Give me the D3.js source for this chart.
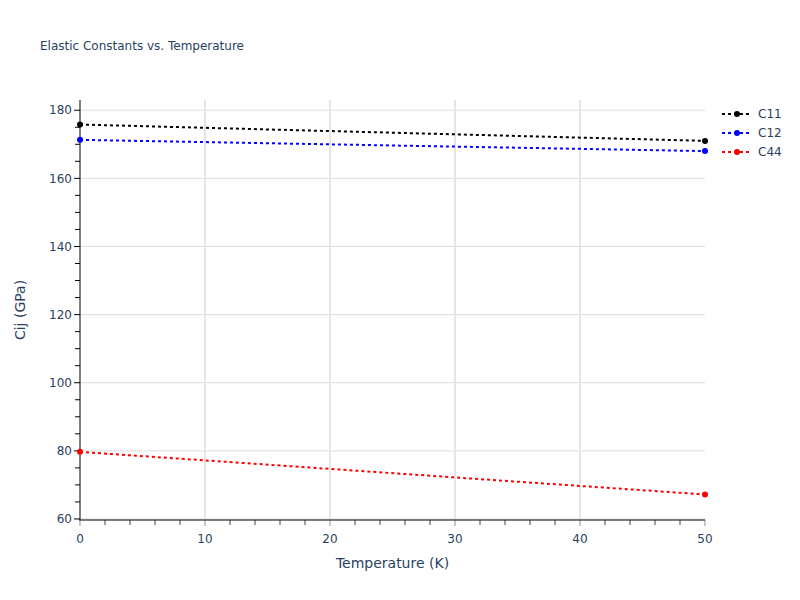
<!DOCTYPE html>
<html>
<head>
<meta charset="utf-8">
<script src="https://cdn.jsdelivr.net/npm/d3@7"></script>
<style>
  body { margin: 0; background: #fff; }
  svg { font-family: "DejaVu Sans", verdana, arial, sans-serif; }
</style>
</head>
<body>
<svg id="chart" width="800" height="600"></svg>
<script>
const temperatures = [0, 50];
const seriesNames = ["C11", "C12", "C44"];
const seriesColors = ["#000000", "#0000ff", "#ff0000"];
const c11 = [175.8, 171.0];
const c12 = [171.3, 168.0];
const c44 = [79.7, 67.2];
const xTicks = [0, 10, 20, 30, 40, 50];
const yTicks = [60, 80, 100, 120, 140, 160, 180];

const seriesValues = [c11, c12, c44];
const textColor = "#2a3f5f";

const svg = d3.select("#chart");
const pLeft = 80, pRight = 705, pTop = 100, pBottom = 520;

const x = d3.scaleLinear().domain([0, 50]).range([pLeft, pRight]);
const y = d3.scaleLinear().domain([59.7, 183]).range([pBottom, pTop]);

// Title
svg.append("text").attr("x", 40).attr("y", 50)
  .attr("font-size", 12).attr("fill", textColor)
  .text("Elastic Constants vs. Temperature");

// Gridlines
const grid = svg.append("g");
grid.selectAll("line.gy").data(yTicks).enter().append("line")
  .attr("x1", pLeft).attr("x2", pRight)
  .attr("y1", d => y(d)).attr("y2", d => y(d))
  .attr("stroke", "#dddddd").attr("stroke-width", 1);
grid.selectAll("line.gx").data(xTicks.filter(d => d > 0 && d < 50)).enter().append("line")
  .attr("y1", pTop).attr("y2", pBottom)
  .attr("x1", d => x(d)).attr("x2", d => x(d))
  .attr("stroke", "#e5e5e5").attr("stroke-width", 2);

// X axis
const xAxisG = svg.append("g").attr("transform", `translate(0,${pBottom})`);
const xMinor = d3.range(0, 51, 2).filter(d => d % 10 !== 0);
xAxisG.selectAll("line.minor").data(xMinor).enter().append("line")
  .attr("x1", d => x(d)).attr("x2", d => x(d)).attr("y1", 0).attr("y2", 5)
  .attr("stroke", "#444").attr("stroke-width", 1);
xAxisG.selectAll("line.major").data(xTicks).enter().append("line")
  .attr("x1", d => x(d)).attr("x2", d => x(d)).attr("y1", 0).attr("y2", 6)
  .attr("stroke", "#c8c8c8").attr("stroke-width", 2);
xAxisG.append("line").attr("x1", pLeft - 1).attr("x2", pRight).attr("y1", 0).attr("y2", 0)
  .attr("stroke", "#000").attr("stroke-width", 1);
xAxisG.selectAll("text").data(xTicks).enter().append("text")
  .attr("x", d => x(d)).attr("y", 23).attr("text-anchor", "middle")
  .attr("font-size", 12).attr("fill", textColor).text(d => d);

// Y axis
const yAxisG = svg.append("g").attr("transform", `translate(${pLeft},0)`);
const yMinor = d3.range(60, 185, 5).filter(d => d % 20 !== 0);
yAxisG.selectAll("line.minor").data(yMinor).enter().append("line")
  .attr("x1", -5).attr("x2", 0).attr("y1", d => y(d)).attr("y2", d => y(d))
  .attr("stroke", "#000").attr("stroke-width", 1);
yAxisG.selectAll("line.major").data(yTicks).enter().append("line")
  .attr("x1", -6).attr("x2", 0).attr("y1", d => y(d)).attr("y2", d => y(d))
  .attr("stroke", "#000").attr("stroke-width", 1);
yAxisG.append("line").attr("x1", 0).attr("x2", 0).attr("y1", pTop).attr("y2", pBottom)
  .attr("stroke", "#000").attr("stroke-width", 1);
yAxisG.selectAll("text").data(yTicks).enter().append("text")
  .attr("x", -8).attr("y", d => y(d)).attr("dy", "0.35em").attr("text-anchor", "end")
  .attr("font-size", 12).attr("fill", textColor).text(d => d);

// Axis titles
svg.append("text").attr("x", (pLeft + pRight) / 2).attr("y", 568)
  .attr("text-anchor", "middle").attr("font-size", 14).attr("fill", textColor)
  .text("Temperature (K)");
svg.append("text").attr("transform", `translate(25,${(pTop + pBottom) / 2}) rotate(-90)`)
  .attr("text-anchor", "middle").attr("font-size", 14).attr("fill", textColor)
  .text("Cij (GPa)");

// Series
const line = d3.line().x(d => x(d[0])).y(d => y(d[1]));
const plot = svg.append("g");
seriesValues.forEach((vals, i) => {
  const pts = temperatures.map((t, j) => [t, vals[j]]);
  plot.append("path").datum(pts).attr("d", line)
    .attr("fill", "none").attr("stroke", seriesColors[i])
    .attr("stroke-width", 2).attr("stroke-dasharray", "3,3");
  plot.selectAll(null).data(pts).enter().append("circle")
    .attr("cx", d => x(d[0])).attr("cy", d => y(d[1])).attr("r", 3)
    .attr("fill", seriesColors[i]);
});

// Legend
const legend = svg.append("g");
seriesNames.forEach((name, i) => {
  const ly = 114 + i * 19;
  legend.append("line").attr("x1", 722).attr("x2", 752).attr("y1", ly).attr("y2", ly)
    .attr("stroke", seriesColors[i]).attr("stroke-width", 2).attr("stroke-dasharray", "3,3");
  legend.append("circle").attr("cx", 737).attr("cy", ly).attr("r", 3).attr("fill", seriesColors[i]);
  legend.append("text").attr("x", 758).attr("y", ly).attr("dy", "0.35em")
    .attr("font-size", 12).attr("fill", textColor).text(name);
});
</script>
</body>
</html>
